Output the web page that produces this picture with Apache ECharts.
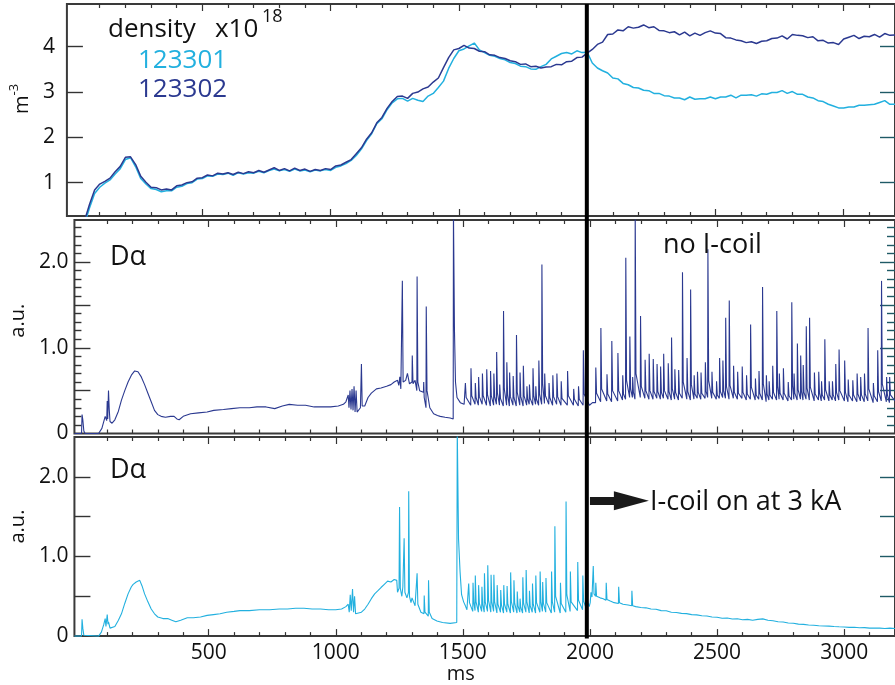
<!DOCTYPE html>
<html>
<head>
<meta charset="utf-8">
<script src="https://cdn.jsdelivr.net/npm/echarts@6/dist/echarts.min.js"></script>
<style>
html,body{margin:0;padding:0;background:#ffffff;}
#chart{width:895px;height:685px;}
</style>
</head>
<body>
<div id="chart"></div>
<script>
// ---------------- axes / ticks ----------------
const timeRange = [-28, 3200];
const xLabelValues = [500, 1000, 1500, 2000, 2500, 3000];
const xMajorTickValues = [500, 1000, 1500, 2000, 2500, 3000];
const xMinorTickValues = [100, 200, 300, 400, 600, 700, 800, 900, 1100, 1200, 1300, 1400, 1600, 1700, 1800, 1900, 2100, 2200, 2300, 2400, 2600, 2700, 2800, 2900, 3100];
const densityRange = [0.265, 4.942];
const densityTickValues = [1, 2, 3, 4];
const dalphaMidRange = [0, 2.49];
const dalphaLowRange = [0, 2.5];
const dalphaLabelValues = [0, 1, 2];
const dalphaMajorTickValues = [0.5, 1, 1.5, 2];
const dalphaMinorTickValues = [0.1, 0.2, 0.3, 0.4, 0.6, 0.7, 0.8, 0.9, 1.1, 1.2, 1.3, 1.4, 1.6, 1.7, 1.8, 1.9, 2.1, 2.2, 2.3, 2.4];
const icoilTime = 2000;

// ---------------- density (x10^18 m^-3) ----------------
const densityTime = [40,60,80,100,120,140,160,180,200,220,240,260,280,300,320,340,360,380,400,420,440,460,480,500,520,540,560,580,600,620,640,660,680,700,720,740,760,780,800,820,840,860,880,900,920,940,960,980,1000,1020,1040,1060,1080,1100,1120,1140,1160,1180,1200,1220,1240,1260,1280,1300,1320,1340,1360,1380,1400,1420,1440,1460,1480,1500,1520,1540,1560,1580,1600,1620,1640,1660,1680,1700,1720,1740,1760,1780,1800,1820,1840,1860,1880,1900,1920,1940,1960,1980,2000,2020,2040,2060,2080,2100,2120,2140,2160,2180,2200,2220,2240,2260,2280,2300,2320,2340,2360,2380,2400,2420,2440,2460,2480,2500,2520,2540,2560,2580,2600,2620,2640,2660,2680,2700,2720,2740,2760,2780,2800,2820,2840,2860,2880,2900,2920,2940,2960,2980,3000,3020,3040,3060,3080,3100,3120,3140,3160,3180,3200];
const density123302 = [0.15,0.52,0.84,0.97,1.03,1.10,1.24,1.36,1.56,1.57,1.40,1.14,1.01,0.90,0.89,0.84,0.86,0.84,0.93,0.95,1.00,1.02,1.10,1.11,1.17,1.15,1.21,1.19,1.22,1.18,1.23,1.20,1.24,1.22,1.27,1.23,1.28,1.33,1.27,1.31,1.26,1.32,1.27,1.30,1.25,1.29,1.27,1.31,1.29,1.37,1.39,1.45,1.51,1.64,1.77,1.96,2.10,2.32,2.44,2.64,2.79,2.90,2.91,2.86,2.97,3.00,3.07,3.11,3.22,3.31,3.54,3.76,3.93,3.96,4.03,3.97,3.96,3.90,3.89,3.82,3.81,3.76,3.74,3.69,3.67,3.61,3.62,3.56,3.57,3.53,3.55,3.56,3.61,3.60,3.67,3.68,3.76,3.77,3.86,3.94,4.05,4.10,4.27,4.28,4.37,4.35,4.44,4.41,4.43,4.48,4.42,4.44,4.36,4.35,4.31,4.33,4.26,4.32,4.24,4.30,4.25,4.31,4.35,4.30,4.29,4.20,4.19,4.15,4.13,4.09,4.11,4.07,4.12,4.13,4.18,4.19,4.24,4.17,4.27,4.25,4.24,4.20,4.22,4.13,4.14,4.08,4.09,4.05,4.17,4.21,4.25,4.18,4.23,4.22,4.27,4.21,4.29,4.25,4.26];
const density123301 = [0.08,0.44,0.76,0.90,0.99,1.06,1.19,1.31,1.51,1.55,1.35,1.09,0.97,0.87,0.85,0.80,0.82,0.82,0.90,0.92,0.98,1.00,1.08,1.09,1.15,1.14,1.19,1.18,1.21,1.16,1.22,1.19,1.22,1.21,1.25,1.22,1.27,1.30,1.26,1.29,1.25,1.30,1.26,1.28,1.24,1.28,1.26,1.29,1.27,1.34,1.37,1.42,1.49,1.60,1.74,1.93,2.08,2.30,2.41,2.61,2.76,2.85,2.86,2.80,2.86,2.82,2.79,2.91,2.97,3.10,3.24,3.52,3.74,3.91,3.95,4.02,4.08,3.93,3.87,3.81,3.79,3.74,3.71,3.65,3.63,3.57,3.56,3.51,3.50,3.56,3.61,3.73,3.79,3.85,3.87,3.84,3.91,3.87,3.88,3.64,3.53,3.47,3.42,3.31,3.29,3.19,3.16,3.10,3.09,3.04,3.03,2.97,2.97,2.92,2.91,2.87,2.87,2.83,2.89,2.84,2.85,2.85,2.89,2.85,2.89,2.89,2.93,2.87,2.93,2.93,2.94,2.91,2.96,2.95,2.99,2.99,3.03,2.97,3.01,2.95,2.95,2.89,2.87,2.81,2.79,2.73,2.69,2.65,2.65,2.67,2.67,2.71,2.71,2.72,2.73,2.77,2.81,2.73,2.73];

// ---------------- D-alpha, shot 123302 (no I-coil) [ms, a.u.] ----------------
const dalpha302Start = [[-28,0],[0,0],[2,0.22],[5,0.16],[9,0.03],[14,0],[67,0],[80,0.06],[93,0.2],[99,0.15],[101,0.38],[103,0.17],[106,0.5],[109,0.28],[112,0.14],[120,0.12],[131,0.16],[145,0.26],[157,0.39],[170,0.5],[183,0.6],[196,0.68],[209,0.73],[216,0.75],[222,0.72],[235,0.66],[248,0.57],[261,0.47],[274,0.37],[287,0.27],[300,0.22],[313,0.2],[330,0.19],[350,0.2],[364,0.2],[375,0.17],[384,0.16],[400,0.2],[429,0.23],[460,0.24],[494,0.25],[520,0.27],[558,0.28],[590,0.29],[623,0.3],[660,0.3],[690,0.31],[726,0.31],[760,0.29],[790,0.32],[817,0.34],[850,0.33],[881,0.33],[915,0.31],[946,0.31],[980,0.31],[1010,0.32],[1030,0.34],[1040,0.37],[1049,0.45],[1052,0.3],[1056,0.5],[1060,0.28],[1064,0.52],[1068,0.27],[1072,0.55],[1076,0.25],[1080,0.5],[1084,0.25],[1090,0.26],[1097,0.3],[1101,0.81],[1104,0.32],[1114,0.32],[1127,0.42],[1140,0.47],[1160,0.52],[1178,0.53],[1200,0.55],[1217,0.57],[1230,0.6],[1243,0.62],[1248,0.56],[1252,0.66],[1256,0.52],[1261,0.5],[1262,1.78],[1265,0.6],[1275,0.62],[1282,0.7],[1290,0.58],[1300,0.6],[1301,0.91],[1304,0.58],[1312,0.62],[1319,0.5],[1320,1.83],[1323,0.6],[1330,0.5],[1345,0.48],[1346,0.6],[1348,0.42],[1355,0.3],[1356,1.48],[1359,0.5],[1370,0.3],[1385,0.23],[1400,0.21],[1411,0.2],[1430,0.19],[1450,0.18],[1462,0.17],[1463,2.6],[1467,1.2],[1471,0.6],[1477,0.42],[1490,0.36],[1505,0.34]];
const dalpha302Elms = [[1509,.34],[1510,.59],[1513,.42],[1531,.33],[1532,.76],[1535,.44],[1548,.34],[1549,.59],[1552,.42],[1561,.33],[1562,.66],[1565,.43],[1576,.34],[1577,.70],[1580,.44],[1593,.33],[1594,.75],[1597,.45],[1608,.32],[1609,.73],[1612,.44],[1621,.33],[1622,.70],[1625,.43],[1632,.34],[1633,.95],[1636,.47],[1644,.33],[1645,.57],[1648,.41],[1659,.32],[1660,1.43],[1663,.52],[1672,.33],[1673,.83],[1676,.45],[1683,.32],[1684,.71],[1687,.43],[1697,.33],[1698,.67],[1701,.42],[1710,.32],[1711,1.15],[1714,.48],[1724,.33],[1725,.71],[1728,.43],[1737,.32],[1738,.79],[1741,.44],[1751,.33],[1752,.55],[1755,.40],[1761,.34],[1762,.57],[1765,.41],[1775,.33],[1776,.76],[1779,.44],[1786,.34],[1787,.55],[1790,.40],[1798,.33],[1799,.85],[1802,.46],[1810,.34],[1811,1.97],[1814,.58],[1821,.35],[1822,.70],[1825,.44],[1838,.34],[1839,.59],[1842,.42],[1853,.33],[1854,.68],[1857,.43],[1869,.34],[1870,.70],[1873,.43],[1886,.33],[1887,.61],[1890,.41],[1911,.33],[1912,.73],[1915,.44],[1935,.33],[1936,.52],[1939,.40],[1954,.32],[1955,.55],[1958,.40],[1973,.33],[1974,.97],[1977,.46],[1998,.33],[2010,.36],[2022,.36],[2023,.77],[2026,.47],[2042,.37],[2043,1.23],[2046,.52],[2066,.38],[2067,.69],[2070,.46],[2085,.37],[2086,1.08],[2089,.50],[2109,.38],[2110,.94],[2113,.50],[2128,.39],[2129,.68],[2132,.46],[2140,.40],[2141,2.05],[2144,.62],[2156,.42],[2157,1.13],[2160,.52],[2167,.42],[2168,.66],[2171,.48],[2177,.40],[2178,2.60],[2181,.70],[2198,.42],[2199,1.37],[2202,.55],[2216,.41],[2217,.86],[2220,.50],[2232,.40],[2233,.93],[2236,.50],[2248,.40],[2249,.87],[2252,.49],[2263,.41],[2264,.81],[2267,.49],[2277,.40],[2278,.78],[2281,.48],[2289,.41],[2290,.93],[2293,.50],[2307,.40],[2308,.82],[2311,.49],[2320,.39],[2321,1.12],[2324,.52],[2333,.40],[2334,.75],[2337,.48],[2348,.39],[2349,.74],[2352,.47],[2363,.41],[2364,1.88],[2367,.60],[2381,.40],[2382,.88],[2385,.49],[2395,.39],[2396,1.68],[2399,.57],[2409,.40],[2410,.68],[2413,.46],[2422,.41],[2423,.72],[2426,.48],[2436,.40],[2437,.71],[2440,.47],[2453,.41],[2454,.83],[2457,.49],[2463,.42],[2464,2.15],[2467,.62],[2479,.41],[2480,.72],[2483,.48],[2497,.40],[2498,.61],[2501,.45],[2509,.41],[2510,.88],[2513,.49],[2522,.42],[2523,.85],[2526,.50],[2533,.41],[2534,1.35],[2537,.55],[2547,.40],[2548,1.55],[2551,.56],[2564,.41],[2565,.79],[2568,.48],[2580,.40],[2581,.72],[2584,.47],[2598,.41],[2599,.78],[2602,.48],[2615,.39],[2616,.68],[2619,.46],[2631,.40],[2632,1.27],[2635,.54],[2650,.39],[2651,.64],[2654,.45],[2664,.40],[2665,.73],[2668,.47],[2678,.39],[2679,1.71],[2682,.58],[2693,.37],[2694,.68],[2697,.46],[2704,.39],[2705,.61],[2708,.45],[2718,.40],[2719,.79],[2722,.48],[2734,.39],[2735,1.43],[2738,.55],[2744,.40],[2745,.70],[2748,.47],[2760,.39],[2761,.76],[2764,.47],[2779,.38],[2780,.60],[2783,.44],[2793,.39],[2794,1.53],[2797,.56],[2802,.40],[2803,.70],[2806,.47],[2815,.39],[2816,1.05],[2819,.51],[2828,.40],[2829,.91],[2832,.49],[2838,.39],[2839,.80],[2842,.48],[2850,.40],[2851,1.25],[2854,.53],[2863,.39],[2864,1.35],[2867,.54],[2882,.38],[2883,.71],[2886,.46],[2899,.39],[2900,.72],[2903,.47],[2910,.38],[2911,.61],[2914,.45],[2923,.39],[2924,1.10],[2927,.51],[2940,.38],[2941,.61],[2944,.45],[2953,.39],[2954,.61],[2957,.45],[2966,.38],[2967,.81],[2970,.48],[2979,.39],[2980,.98],[2983,.50],[3001,.38],[3002,.85],[3005,.48],[3015,.37],[3016,.63],[3019,.45],[3033,.38],[3034,.62],[3037,.45],[3050,.37],[3051,.70],[3054,.46],[3064,.38],[3065,.66],[3068,.45],[3079,.37],[3080,.70],[3083,.46],[3093,.38],[3094,1.23],[3097,.52],[3114,.36],[3115,.59],[3118,.44],[3131,.37],[3132,.97],[3135,.49],[3146,.38],[3147,1.78],[3150,.58],[3166,.37],[3167,.66],[3170,.45],[3178,.36],[3179,.66],[3182,.45],[3200,.38]];

// ---------------- D-alpha, shot 123301 (I-coil on at 3 kA) [ms, a.u.] ----------------
const dalpha301Start = [[-28,0],[0,0],[2,0.21],[5,0.1],[9,0.01],[14,0],[67,0],[78,0.05],[87,0.14],[93,0.22],[96,0.12],[101,0.27],[104,0.15],[106,0.18],[112,0.1],[119,0.09],[131,0.12],[145,0.2],[157,0.28],[170,0.41],[183,0.53],[196,0.62],[203,0.65],[215,0.68],[222,0.69],[229,0.7],[238,0.63],[248,0.53],[261,0.43],[274,0.34],[287,0.28],[300,0.24],[320,0.22],[339,0.22],[355,0.2],[371,0.18],[390,0.2],[416,0.23],[440,0.23],[468,0.24],[494,0.26],[519,0.27],[545,0.28],[571,0.3],[600,0.31],[623,0.32],[660,0.32],[700,0.33],[740,0.33],[778,0.34],[810,0.34],[842,0.35],[875,0.35],[907,0.34],[940,0.34],[972,0.33],[1000,0.33],[1023,0.34],[1040,0.37],[1049,0.4],[1053,0.3],[1057,0.52],[1061,0.32],[1066,0.59],[1070,0.3],[1074,0.5],[1078,0.28],[1085,0.28],[1101,0.3],[1114,0.34],[1127,0.4],[1140,0.47],[1153,0.53],[1166,0.57],[1178,0.61],[1191,0.65],[1204,0.69],[1217,0.68],[1230,0.71],[1240,0.7],[1243,0.55],[1249,0.6],[1251,1.62],[1254,0.6],[1260,0.5],[1264,0.62],[1269,1.23],[1272,0.55],[1280,0.48],[1286,0.55],[1287,1.82],[1290,0.5],[1296,0.42],[1300,0.48],[1305,0.47],[1312,0.38],[1319,0.36],[1320,0.79],[1323,0.4],[1335,0.3],[1347,0.28],[1348,0.51],[1351,0.3],[1364,0.25],[1365,0.7],[1368,0.3],[1379,0.22],[1398,0.19],[1420,0.17],[1450,0.16],[1476,0.17],[1478,2.6],[1483,1.22],[1489,0.81],[1495,0.52],[1503,0.43],[1510,0.38],[1516,0.33]];
const dalpha301Elms = [[1522,.32],[1523,.66],[1526,.42],[1539,.31],[1540,.67],[1543,.42],[1548,.32],[1549,.76],[1552,.43],[1561,.30],[1562,.64],[1565,.41],[1574,.31],[1575,.62],[1578,.40],[1584,.30],[1585,.79],[1588,.43],[1597,.31],[1598,.89],[1601,.45],[1610,.30],[1611,.77],[1614,.43],[1621,.31],[1622,.77],[1625,.43],[1634,.29],[1635,.64],[1638,.40],[1648,.30],[1649,.58],[1652,.39],[1660,.29],[1661,.64],[1664,.40],[1673,.30],[1674,.63],[1677,.40],[1687,.29],[1688,.80],[1691,.43],[1700,.30],[1701,.70],[1704,.41],[1713,.29],[1714,.56],[1717,.38],[1724,.30],[1725,.47],[1728,.36],[1735,.29],[1736,.74],[1739,.41],[1748,.30],[1749,.83],[1752,.43],[1761,.29],[1762,.57],[1765,.38],[1773,.30],[1774,.66],[1777,.40],[1786,.29],[1787,.76],[1790,.42],[1803,.30],[1804,.81],[1807,.43],[1813,.31],[1814,.68],[1817,.41],[1826,.30],[1827,.73],[1830,.42],[1848,.29],[1849,.81],[1852,.43],[1861,.30],[1862,1.38],[1865,.50],[1883,.29],[1884,.67],[1887,.41],[1905,.30],[1906,1.69],[1909,.52],[1922,.31],[1923,.81],[1926,.43],[1951,.32],[1952,.93],[1955,.45],[1971,.33],[1972,.76],[1975,.44],[1986,.34],[1987,.71],[1990,.44],[1997,.37],[2001,.42],[2004,.55],[2008,.49],[2012,.50],[2013,.88],[2016,.53],[2022,.50],[2023,.67],[2026,.50],[2040,.48],[2052,.47],[2063,.45],[2064,.67],[2067,.46],[2080,.44],[2095,.42],[2112,.41],[2113,.62],[2116,.42],[2130,.40],[2150,.39],[2164,.38],[2165,.57],[2168,.38]];
const dalpha301Tail = [[2180,.37],[2200,.36],[2220,.355],[2240,.34],[2260,.338],[2280,.32],[2300,.318],[2320,.30],[2340,.297],[2360,.285],[2380,.282],[2400,.27],[2420,.266],[2440,.255],[2460,.252],[2480,.24],[2500,.237],[2520,.225],[2540,.228],[2560,.215],[2580,.217],[2600,.205],[2620,.21],[2640,.20],[2660,.21],[2680,.216],[2700,.20],[2720,.192],[2740,.18],[2760,.177],[2780,.165],[2800,.162],[2820,.15],[2840,.147],[2860,.14],[2880,.137],[2900,.13],[2920,.127],[2940,.125],[2960,.12],[2980,.117],[3000,.115],[3020,.11],[3040,.112],[3060,.105],[3080,.107],[3100,.10],[3120,.102],[3140,.10],[3160,.095],[3180,.10],[3200,.095]];

// ---------------- build options ----------------
const FONT = "'Open Sans', 'Noto Sans', sans-serif";
const CYAN = '#22b0df';
const NAVY = '#2b3990';
const TEAL = '#1f5a66';
const INK = '#111111';

const xAxes = [];
const yAxes = [];
function addX(grid, position, ticks, len, extra) {
  xAxes.push(Object.assign({
    type: 'value', gridIndex: grid, position: position,
    min: timeRange[0], max: timeRange[1],
    axisLine: { show: false, onZero: false },
    splitLine: { show: false },
    axisLabel: { show: false },
    axisTick: { show: true, inside: true, length: len, customValues: ticks,
      lineStyle: { color: '#333', width: 1.2 } }
  }, extra || {}));
  return xAxes.length - 1;
}
function addY(grid, position, range, ticks, len, color, extra) {
  yAxes.push(Object.assign({
    type: 'value', gridIndex: grid, position: position,
    min: range[0], max: range[1],
    axisLine: { show: false, onZero: false },
    splitLine: { show: false },
    axisLabel: { show: false },
    axisTick: { show: true, inside: true, length: len, customValues: ticks,
      lineStyle: { color: color, width: 1.4 } }
  }, extra || {}));
  return yAxes.length - 1;
}

const tickLabelStyle = { color: INK, fontSize: 21, fontFamily: FONT };
const xIdx = [];
for (let g = 0; g < 3; g++) {
  const extra = (g === 2) ? {
    axisLabel: Object.assign({ show: true, customValues: xLabelValues, margin: 6,
      formatter: v => String(v) }, tickLabelStyle),
    name: 'ms', nameLocation: 'middle', nameGap: 24,
    nameTextStyle: { color: INK, fontSize: 20, fontFamily: FONT, padding: [0, 48, 0, 0] }
  } : null;
  xIdx.push(addX(g, 'bottom', xMajorTickValues, 7, extra));
  addX(g, 'bottom', xMinorTickValues, 4);
  addX(g, 'top', xMajorTickValues, 7);
  addX(g, 'top', xMinorTickValues, 4);
}
const xOverlay = addX(3, 'bottom', [], 0, { show: false });

const yDensity = addY(0, 'left', densityRange, densityTickValues, 16, '#333', {
  axisLabel: Object.assign({ show: true, customValues: densityTickValues, margin: 12,
    formatter: v => String(v) }, tickLabelStyle),
  name: '{m|m}{s|-3}', nameLocation: 'middle', nameGap: 32, nameRotate: 90,
  nameTextStyle: { color: INK, fontFamily: FONT, padding: [0, 0, 0, 22],
    rich: { m: { fontSize: 20, fontFamily: FONT, color: INK, lineHeight: 24, verticalAlign: 'bottom' },
            s: { fontSize: 13, fontFamily: FONT, color: INK, lineHeight: 13, verticalAlign: 'top' } } }
});
addY(0, 'right', densityRange, densityTickValues, 15, TEAL);

const dalphaLabel = v => (v === 0 ? '0' : v.toFixed(1));
const yMid = addY(1, 'left', dalphaMidRange, dalphaMajorTickValues, 16, '#333', {
  axisLabel: Object.assign({ show: true, customValues: dalphaLabelValues, margin: 6,
    showMinLabel: true, formatter: dalphaLabel }, tickLabelStyle),
  name: 'a.u.', nameLocation: 'middle', nameGap: 34, nameRotate: 90,
  nameTextStyle: { color: INK, fontSize: 20, fontFamily: FONT, padding: [0, 0, 0, 12] }
});
addY(1, 'left', dalphaMidRange, dalphaMinorTickValues, 7, '#333');
addY(1, 'right', dalphaMidRange, dalphaMajorTickValues, 15, TEAL);
addY(1, 'right', dalphaMidRange, dalphaMinorTickValues, 8, TEAL);

const yLow = addY(2, 'left', dalphaLowRange, dalphaMajorTickValues, 16, '#333', {
  axisLabel: Object.assign({ show: true, customValues: dalphaLabelValues, margin: 6,
    showMinLabel: true, formatter: dalphaLabel }, tickLabelStyle),
  name: 'a.u.', nameLocation: 'middle', nameGap: 34, nameRotate: 90,
  nameTextStyle: { color: INK, fontSize: 20, fontFamily: FONT, padding: [0, 0, 0, 20] }
});
addY(2, 'right', dalphaLowRange, dalphaMajorTickValues, 15, TEAL);
const yOverlay = addY(3, 'left', [0, 1], [], 0, '#000', { show: false });

const frame = { show: true, borderColor: '#3a3a3a', borderWidth: 2, backgroundColor: 'transparent' };

function txt(x, y, text, size, color) {
  return { type: 'text', x: x, y: y, silent: true, z: 100,
    style: { text: text, fontSize: size, fontFamily: FONT, fill: color,
      textAlign: 'left', textVerticalAlign: 'middle', align: 'left', verticalAlign: 'middle' } };
}

const option = {
  animation: false,
  backgroundColor: '#ffffff',
  grid: [
    Object.assign({ left: 66, top: 4, width: 830, height: 212 }, frame),
    Object.assign({ left: 66, top: 220, width: 830, height: 213.5 }, frame),
    Object.assign({ left: 66, top: 437, width: 830, height: 201.5 }, frame),
    { left: 66, top: 4, width: 830, height: 634.5, show: false }
  ],
  xAxis: xAxes,
  yAxis: yAxes,
  graphic: [
    txt(108, 29.5, 'density', 26, INK),
    txt(215, 29.5, 'x10', 26, INK),
    txt(262, 16.5, '18', 18, INK),
    txt(138, 61, '123301', 26, CYAN),
    txt(138, 89.5, '123302', 26, NAVY),
    txt(110, 257.5, 'D\u03b1', 27, INK),
    txt(110, 470.5, 'D\u03b1', 27, INK),
    txt(663, 245.5, 'no I-coil', 27, INK),
    txt(650, 502, 'I-coil on at 3 kA', 27, INK)
  ],
  series: [
    { type: 'line', name: '123301', xAxisIndex: xIdx[0], yAxisIndex: yDensity,
      data: densityTime.map((t, i) => [t, density123301[i]]),
      showSymbol: false, symbol: 'none', lineStyle: { color: CYAN, width: 1.5 }, silent: true },
    { type: 'line', name: '123302', xAxisIndex: xIdx[0], yAxisIndex: yDensity,
      data: densityTime.map((t, i) => [t, density123302[i]]),
      showSymbol: false, symbol: 'none', lineStyle: { color: NAVY, width: 1.5 }, silent: true },
    { type: 'line', name: 'Da 123302', xAxisIndex: xIdx[1], yAxisIndex: yMid,
      data: dalpha302Start.concat(dalpha302Elms),
      showSymbol: false, symbol: 'none', lineStyle: { color: NAVY, width: 1.1 }, silent: true },
    { type: 'line', name: 'Da 123301', xAxisIndex: xIdx[2], yAxisIndex: yLow,
      data: dalpha301Start.concat(dalpha301Elms, dalpha301Tail),
      showSymbol: false, symbol: 'none', lineStyle: { color: CYAN, width: 1.1 }, silent: true,
      markLine: { silent: true, animation: false, symbol: ['none', 'triangle'], symbolSize: [19, 35],
        label: { show: false }, emphasis: { disabled: true },
        lineStyle: { color: '#1a1a1a', width: 8, type: 'solid' },
        data: [[{ coord: [icoilTime, 1.70] }, { coord: [2163, 1.70] }]] } },
    { type: 'line', name: 'I-coil start', xAxisIndex: xOverlay, yAxisIndex: yOverlay,
      data: [[icoilTime, 0], [icoilTime, 1]], z: 10,
      showSymbol: false, symbol: 'none', lineStyle: { color: '#000', width: 4 }, silent: true }
  ]
};

const chart = echarts.init(document.getElementById('chart'), null, { renderer: 'canvas' });
chart.setOption(option);
</script>
</body>
</html>
